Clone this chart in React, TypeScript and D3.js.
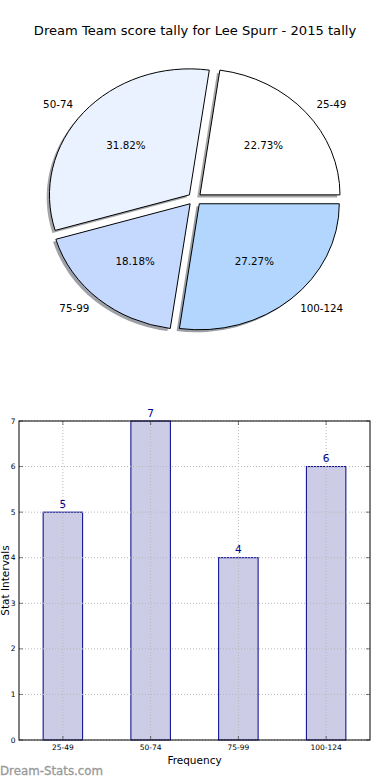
import React from "react";
import * as d3 from "d3";

const categories = ["25-49", "50-74", "75-99", "100-124"];
const counts = [5, 7, 4, 6];
const pieColors = ["#FFFFFF", "#EBF2FF", "#C5D9FF", "#B3D6FF"];
const yTicks = [0, 1, 2, 3, 4, 5, 6, 7];

const W = 390;
const H = 780;
const FONT = "DejaVu Sans, sans-serif";

function Pie() {
  const cx = 194.7, cy = 199, rx = 140, ry = 126, explode = 0.05;
  const pie = d3.pie<number>().sort(null).startAngle(Math.PI / 2).endAngle(Math.PI / 2 - 2 * Math.PI);
  const arcs = pie(counts);
  const arc = d3.arc<any>().innerRadius(0).outerRadius(1);
  const total = d3.sum(counts);
  const pt = (a: number, r: number) => [Math.sin(a) * r, -Math.cos(a) * r];
  return (
    <g>
      {arcs.map((d, i) => {
        const mid = (d.startAngle + d.endAngle) / 2;
        const [ox, oy] = pt(mid, explode);
        const tx = cx + ox * rx - 0.02 * rx;
        const ty = cy + oy * ry + 0.02 * ry;
        const c = d3.rgb(pieColors[i]);
        const sh = d3.rgb(c.r * 0.3, c.g * 0.3, c.b * 0.3).toString();
        return (
          <path key={"s" + i} d={arc(d) as string}
            transform={`translate(${tx},${ty}) scale(${rx},${ry})`}
            fill={sh} fillOpacity={0.5} stroke="none" />
        );
      })}
      {arcs.map((d, i) => {
        const mid = (d.startAngle + d.endAngle) / 2;
        const [ox, oy] = pt(mid, explode);
        const tx = cx + ox * rx;
        const ty = cy + oy * ry;
        return (
          <path key={"w" + i} d={arc(d) as string}
            transform={`translate(${tx},${ty}) scale(${rx},${ry})`}
            fill={pieColors[i]} stroke="#000" strokeWidth={1}
            vectorEffect="non-scaling-stroke" />
        );
      })}
      {arcs.map((d, i) => {
        const mid = (d.startAngle + d.endAngle) / 2;
        const [ox, oy] = pt(mid, explode);
        const bx = cx + ox * rx;
        const by = cy + oy * ry;
        const [lx, ly] = pt(mid, 1.1);
        const [px, py] = pt(mid, 0.6);
        const pct = ((counts[i] / total) * 100).toFixed(2) + "%";
        return (
          <g key={"t" + i} fontFamily={FONT} fontSize={10.3} fill="#000">
            <text x={bx + lx * rx} y={by + ly * ry} dy="0.35em"
              textAnchor={lx > 0 ? "start" : "end"}>{categories[i]}</text>
            <text x={bx + px * rx} y={by + py * ry} dy="0.35em"
              textAnchor="middle">{pct}</text>
          </g>
        );
      })}
    </g>
  );
}

function Bars() {
  const left = 19, right = 370, top = 421, bottom = 740;
  const x = d3.scaleLinear().domain([-0.5, categories.length - 0.5]).range([left, right]);
  const y = d3.scaleLinear().domain([0, 7]).range([bottom, top]);
  const bw = 0.45;
  const grid = { stroke: "#b8b8b8", strokeWidth: 1, strokeDasharray: "1,2" };
  return (
    <g>
      {counts.map((v, i) => (
        <rect key={"b" + i} x={x(i - bw / 2)} y={y(v)} width={x(bw) - x(0)} height={y(0) - y(v)}
          fill="#CCCCE6" stroke="#00008B" strokeWidth={1} />
      ))}
      {yTicks.map((t) => (
        <line key={"gy" + t} x1={left} x2={right} y1={y(t)} y2={y(t)} {...grid} />
      ))}
      {categories.map((c, i) => (
        <line key={"gx" + i} x1={x(i)} x2={x(i)} y1={top} y2={bottom} {...grid} />
      ))}
      {yTicks.map((t) => (
        <g key={"ty" + t}>
          <line x1={left} x2={left + 4} y1={y(t)} y2={y(t)} stroke="#000" strokeWidth={0.5} />
          <line x1={right - 4} x2={right} y1={y(t)} y2={y(t)} stroke="#000" strokeWidth={0.5} />
          <text x={left - 3.5} y={y(t)} dy="0.35em" textAnchor="end" fontFamily={FONT} fontSize={7.5}>{t}</text>
        </g>
      ))}
      {categories.map((c, i) => (
        <g key={"tx" + i}>
          <line x1={x(i)} x2={x(i)} y1={bottom} y2={bottom - 4} stroke="#000" strokeWidth={0.5} />
          <line x1={x(i)} x2={x(i)} y1={top} y2={top + 4} stroke="#000" strokeWidth={0.5} />
          <text x={x(i)} y={bottom + 7.5} dy="0.35em" textAnchor="middle" fontFamily={FONT} fontSize={7.5}>{c}</text>
        </g>
      ))}
      <rect x={left} y={top} width={right - left} height={bottom - top} fill="none" stroke="#000" strokeWidth={1} />
      {counts.map((v, i) => (
        <text key={"v" + i} x={x(i)} y={y(v) - 4.5} textAnchor="middle" fontFamily={FONT} fontSize={10.5} fill="#00008B">{v}</text>
      ))}
      <text x={(left + right) / 2} y={760} dy="0.35em" textAnchor="middle" fontFamily={FONT} fontSize={10.5}>Frequency</text>
      <text transform={`translate(8.5,${(top + bottom) / 2}) rotate(-90)`} textAnchor="middle" fontFamily={FONT} fontSize={10.5}>Stat Intervals</text>
    </g>
  );
}

export default function App() {
  return (
    <svg width={W} height={H} style={{ position: "absolute", left: 0, top: 0, background: "#fff" }}>
      <rect width={W} height={H} fill="#fff" />
      <text x={195} y={30} dy="0.35em" textAnchor="middle" fontFamily={FONT} fontSize={13.1}>Dream Team score tally for Lee Spurr - 2015 tally</text>
      <Pie />
      <Bars />
      <text x={0} y={775} fontFamily={FONT} fontSize={11.8} fill="#999999" stroke="#999999" strokeWidth={0.3}>Dream-Stats.com</text>
    </svg>
  );
}
